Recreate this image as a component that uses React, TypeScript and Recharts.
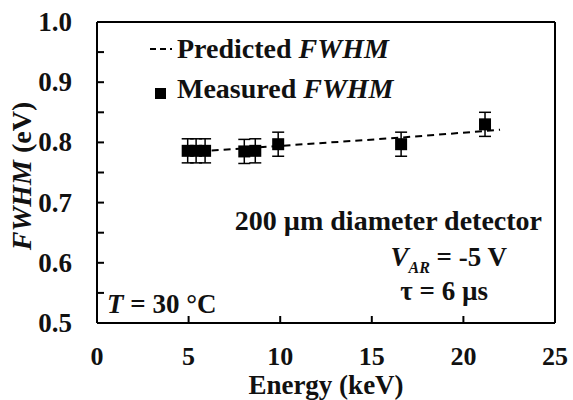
import React from 'react';
import { ComposedChart, Scatter, XAxis, YAxis, ErrorBar } from 'recharts';

// ── data ─────────────────────────────────────────────
const ENERGY = [4.95, 5.41, 5.9, 8.04, 8.64, 9.89, 16.6, 21.18];
const FWHM = [0.786, 0.786, 0.786, 0.785, 0.786, 0.797, 0.797, 0.830];
const FWHM_ERR = [0.02, 0.02, 0.02, 0.02, 0.02, 0.02, 0.02, 0.02];

const PRED_ENERGY = [4.95, 8.04, 9.89, 16.6, 22.0];
const PRED_FWHM = [0.784, 0.790, 0.794, 0.808, 0.821];

const X_TICKS = [0, 5, 10, 15, 20, 25];
const Y_TICKS = [0.5, 0.55, 0.6, 0.65, 0.7, 0.75, 0.8, 0.85, 0.9, 0.95, 1.0];

const measured = ENERGY.map((e, i) => ({ x: e, y: FWHM[i], err: FWHM_ERR[i] }));
const predicted = PRED_ENERGY.map((e, i) => ({ x: e, y: PRED_FWHM[i] }));

const FONT = '"Liberation Serif", "Times New Roman", serif';

// ── ticks (inward) ───────────────────────────────────
function BottomTick({ x, y, payload }: any) {
  return (
    <g>
      {payload.value !== 0 && payload.value !== 25 && <line x1={x} y1={y} x2={x} y2={y - 7} stroke="#000" strokeWidth={2} />}
      <text x={x} y={y + 42} textAnchor="middle" fontFamily={FONT} fontWeight="bold" fontSize={26} fill="#111">{payload.value}</text>
    </g>
  );
}
function TopTick({ x, y, payload }: any) {
  if (payload.value === 0 || payload.value === 25) return null;
  return <line x1={x} y1={y} x2={x} y2={y + 7} stroke="#000" strokeWidth={2} />;
}
function LeftTick({ x, y, payload }: any) {
  const v = payload.value;
  const major = Math.abs(v * 10 - Math.round(v * 10)) < 1e-6;
  const edge = v === 0.5 || v === 1.0;
  return (
    <g>
      {!edge && <line x1={x} y1={y} x2={x + 7} y2={y} stroke="#000" strokeWidth={2} />}
      {major && <text x={x - 25} y={y + 9} textAnchor="end" fontFamily={FONT} fontWeight="bold" fontSize={27} fill="#111">{v.toFixed(1)}</text>}
    </g>
  );
}
function RightTick({ x, y, payload }: any) {
  const v = payload.value;
  if (v === 0.5 || v === 1.0) return null;
  return <line x1={x} y1={y} x2={x - 7} y2={y} stroke="#000" strokeWidth={2} />;
}

function Square({ cx, cy }: any) {
  return <rect x={cx - 6} y={cy - 6} width={12} height={12} fill="#000" />;
}

export default function App() {
  const t = { fontFamily: FONT, fontWeight: 'bold' as const, fill: '#111' };
  return (
    <div style={{ position: 'absolute', left: 0, top: 0, width: 573, height: 400, background: '#fff' }}>
      <ComposedChart width={573} height={400} margin={{ left: 37, right: 8, top: 12, bottom: 17 }}>
        <XAxis xAxisId="b" type="number" dataKey="x" domain={[0, 25]} ticks={X_TICKS} height={60}
          axisLine={{ stroke: '#000', strokeWidth: 2 }} tickLine={false} tickSize={0} tickMargin={0} tick={<BottomTick />} />
        <XAxis xAxisId="t" orientation="top" type="number" dataKey="x" domain={[0, 25]} ticks={X_TICKS} height={10}
          axisLine={{ stroke: '#000', strokeWidth: 2 }} tickLine={false} tickSize={0} tickMargin={0} tick={<TopTick />} />
        <YAxis yAxisId="l" type="number" dataKey="y" domain={[0.5, 1.0]} ticks={Y_TICKS} width={60}
          axisLine={{ stroke: '#000', strokeWidth: 2 }} tickLine={false} tickSize={0} tickMargin={0} tick={<LeftTick />} />
        <YAxis yAxisId="r" orientation="right" type="number" dataKey="y" domain={[0.5, 1.0]} ticks={Y_TICKS} width={10}
          axisLine={{ stroke: '#000', strokeWidth: 2 }} tickLine={false} tickSize={0} tickMargin={0} tick={<RightTick />} />
        <Scatter xAxisId="b" yAxisId="l" data={predicted} line={{ stroke: '#000', strokeWidth: 2, strokeDasharray: '7 5' }}
          lineType="joint" shape={() => null} isAnimationActive={false} />
        <Scatter xAxisId="b" yAxisId="l" data={measured} shape={<Square />} isAnimationActive={false}>
          <ErrorBar dataKey="err" direction="y" width={6} stroke="#000" strokeWidth={1.5} />
        </Scatter>
      </ComposedChart>
      <svg width={573} height={400} style={{ position: 'absolute', left: 0, top: 0, pointerEvents: 'none' }}>
        {/* legend */}
        <line x1={150} y1={49} x2={172} y2={49} stroke="#000" strokeWidth={2} strokeDasharray="6 4" />
        <text x={177} y={58} fontSize={28} {...t}>Predicted <tspan fontStyle="italic">FWHM</tspan></text>
        <rect x={155} y={88} width={11} height={11} fill="#000" />
        <text x={177} y={98} fontSize={28} {...t}>Measured <tspan fontStyle="italic">FWHM</tspan></text>
        {/* annotations */}
        <text x={542} y={230} textAnchor="end" fontSize={28} {...t}>200 µm diameter detector</text>
        <text x={507} y={266} textAnchor="end" fontSize={27} {...t}>
          <tspan fontStyle="italic">V</tspan><tspan fontStyle="italic" fontSize={16} dy={7}>AR</tspan><tspan dy={-7}> = -5 V</tspan>
        </text>
        <text x={488} y={300} textAnchor="end" fontSize={27} {...t}>τ = 6 µs</text>
        <text x={107} y={313} fontSize={27} {...t}><tspan fontStyle="italic">T</tspan> = 30 °C</text>
        {/* axis titles */}
        <text x={326} y={394} textAnchor="middle" fontSize={27} {...t}>Energy (keV)</text>
        <text x={0} y={0} transform="translate(31,176) rotate(-90)" textAnchor="middle" fontSize={28} {...t}>
          <tspan fontStyle="italic">FWHM</tspan> (eV)
        </text>
      </svg>
    </div>
  );
}
